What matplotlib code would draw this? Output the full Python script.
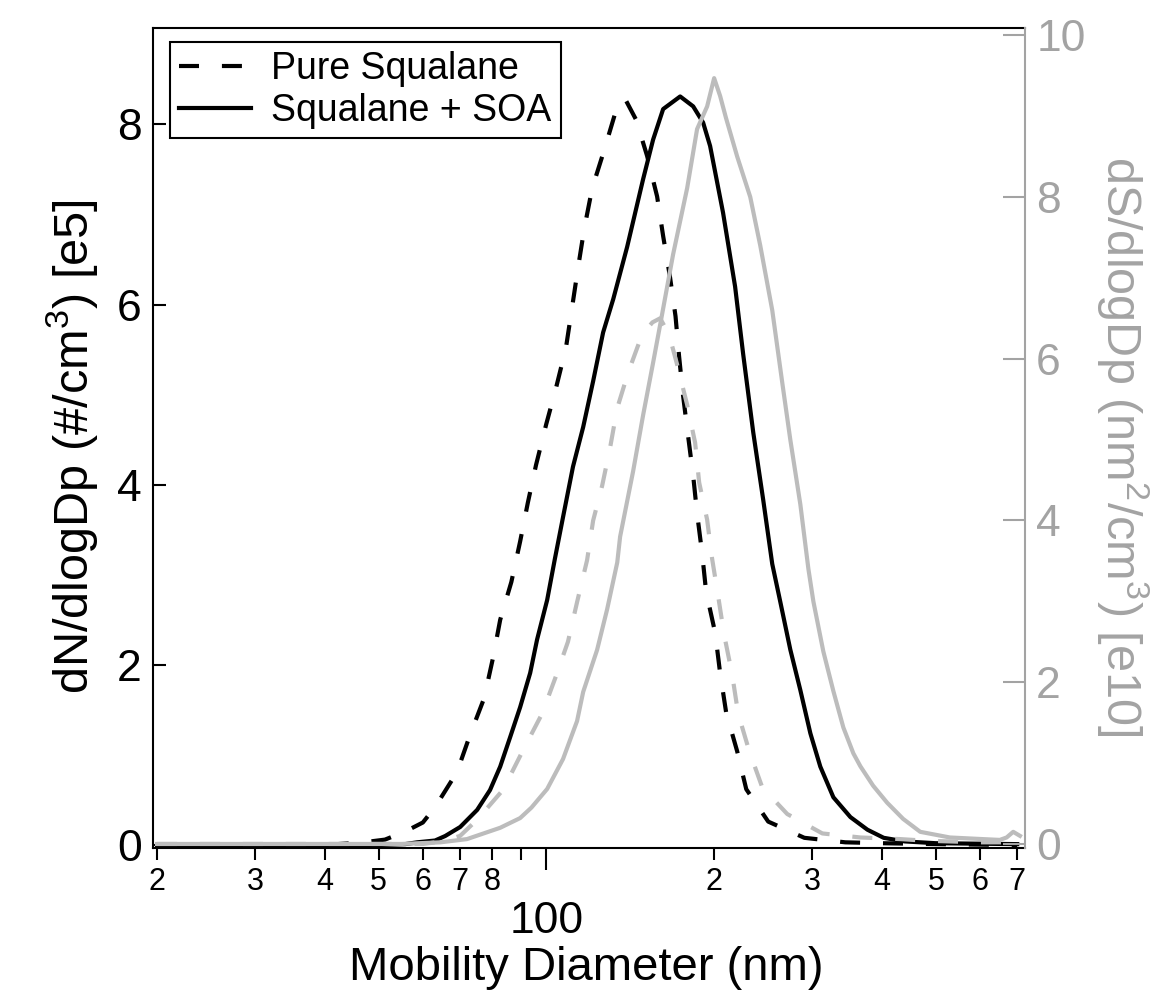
import matplotlib
matplotlib.use('Agg')
import matplotlib.pyplot as plt
import numpy as np
from matplotlib.ticker import FixedLocator, FixedFormatter

plt.rcParams['font.family'] = ['Liberation Sans', 'DejaVu Sans']
plt.rcParams['mathtext.fontset'] = 'custom'
plt.rcParams['mathtext.rm'] = 'Liberation Sans'
plt.rcParams['mathtext.default'] = 'regular'

# pure squalane, number distribution (left axis, x1e5)
pure_d = [20, 40, 46.9, 51.3, 55.8, 60, 63.1, 69.1, 72.9, 77.3, 80.2, 82.6, 86.5, 89.7,
          92.6, 95.8, 99.9, 104.1, 108.4, 111.2, 113.9, 116.9, 120.8, 126.9, 134.0, 138.5,
          144.9, 151.6, 158.0, 162.0, 166.7, 170.5, 173.0, 175.9, 179.6, 183.4, 186.4,
          190.3, 193.5, 200.8, 205.0, 210.2, 220.0, 228.4, 250.1, 290.4, 344, 400, 500, 700]
pure_n = [0, 0, 0.03, 0.06, 0.15, 0.25, 0.42, 0.81, 1.22, 1.63, 2.08, 2.5, 2.92, 3.37,
          3.8, 4.22, 4.67, 5.08, 5.52, 5.97, 6.4, 6.84, 7.29, 7.71, 8.2, 8.28,
          8.05, 7.65, 7.2, 6.76, 6.3, 5.87, 5.43, 4.99, 4.54, 4.1, 3.68,
          3.24, 2.81, 2.36, 1.91, 1.47, 1.04, 0.62, 0.26, 0.08, 0.03, 0.02, 0.01, 0]

# squalane + SOA, number distribution (left axis, x1e5)
soa_d = [20, 50, 55.8, 58.6, 63.1, 65.8, 70.0, 75.1, 79.2, 82.6, 86.1, 89.7, 93.5, 96.2,
         100.3, 103.5, 107.1, 111.6, 116.4, 121.3, 126.4, 131.8, 139.6, 149.1, 155.4,
         162.0, 173.8, 183.4, 191.1, 196.7, 207.5, 218.1, 225.5, 235.1, 245.0, 254.3,
         262.9, 274.0, 285.6, 297.7, 310.2, 327.4, 351.3, 376.9, 403.1, 440, 500, 700]
soa_n = [0, 0, 0.01, 0.03, 0.05, 0.1, 0.2, 0.39, 0.61, 0.87, 1.2, 1.53, 1.91, 2.28,
         2.72, 3.17, 3.64, 4.2, 4.64, 5.15, 5.69, 6.06, 6.64, 7.39, 7.83,
         8.17, 8.31, 8.2, 8.02, 7.76, 7.02, 6.2, 5.45, 4.58, 3.83, 3.12,
         2.7, 2.17, 1.72, 1.24, 0.87, 0.53, 0.31, 0.17, 0.08, 0.04, 0.02, 0.01]

# pure squalane, surface distribution (right axis, x1e10)
pure_sd = [20, 60, 65, 70, 75.1, 83.6, 90.8, 98.2, 103.7, 109.3, 113.5, 118.3, 121.3,
           125.9, 130.1, 134.0, 140.2, 148.5, 155, 160, 166, 171.6, 178.9, 184.9, 188.0,
           194.3, 198.3, 203.3, 208.4, 215.4, 220.9, 231.2, 244.0, 270.6, 312.8, 366.1,
           431.7, 480, 600, 700]
pure_s = [0, 0, 0.03, 0.1, 0.3, 0.67, 1.16, 1.61, 2.05, 2.5, 2.99, 3.51, 4.0,
          4.43, 4.9, 5.39, 5.83, 6.3, 6.45, 6.5, 6.3, 5.93, 5.43, 4.96, 4.47,
          4.01, 3.53, 3.07, 2.59, 2.1, 1.61, 1.15, 0.7, 0.37, 0.13, 0.08,
          0.06, 0.04, 0.02, 0.02]

# squalane + SOA, surface distribution (right axis, x1e10)
soa_sd = [20, 55, 64.5, 72.0, 82.6, 89.7, 94.0, 100.3, 107.1, 113.5, 116.4, 123.3, 128.5,
          134.0, 135.6, 143.1, 149.1, 155.4, 161.4, 168.8, 178.9, 186.4, 194.3, 200.0, 205,
          210, 220.0, 232.2, 242.0, 254.3, 265.1, 274.0, 285.6, 295.3, 301.4, 314.1, 327.4,
          341.2, 355.6, 366.1, 385.9, 408.9, 436.8, 468.8, 529.9, 607.1, 651.4, 670, 688.5, 708]
soa_s = [0, 0, 0.02, 0.06, 0.2, 0.32, 0.45, 0.68, 1.05, 1.52, 1.88, 2.4, 2.9,
         3.48, 3.8, 4.61, 5.3, 5.95, 6.56, 7.29, 8.11, 8.84, 9.12, 9.47, 9.25,
         8.98, 8.5, 8.0, 7.4, 6.6, 5.7, 5.0, 4.2, 3.4, 3.0, 2.38, 1.89,
         1.44, 1.12, 0.96, 0.72, 0.51, 0.31, 0.15, 0.08, 0.06, 0.05, 0.08, 0.15, 0.1]

minor_ticks = [20, 30, 40, 50, 60, 70, 80, 90, 200, 300, 400, 500, 600, 700]
minor_labels = ['2', '3', '4', '5', '6', '7', '8', '', '2', '3', '4', '5', '6', '7']

GRAY = '#bcbcbc'
AXGRAY = '#a3a3a3'
lw = 3

fig = plt.figure(figsize=(11.7, 9.96), dpi=100)
ax = fig.add_axes([0.1308, 0.1486, 0.7453, 0.8233])
ax2 = ax.twinx()

ax.plot(pure_d, pure_n, color='black', lw=lw, dashes=(4.8, 5.5), label='Pure Squalane')
ax.plot(soa_d, soa_n, color='black', lw=lw, label='Squalane + SOA')
ax2.plot(pure_sd, pure_s, color=GRAY, lw=lw, dashes=(4.8, 5.5))
ax2.plot(soa_sd, soa_s, color=GRAY, lw=lw)

ax.set_xscale('log')
ax.set_xlim(19.67, 723)
ax.set_ylim(-0.033, 9.07)
ax2.set_ylim(-0.05, 10.09)

ax.xaxis.set_major_locator(FixedLocator([100]))
ax.xaxis.set_major_formatter(FixedFormatter(['100']))
ax.xaxis.set_minor_locator(FixedLocator(minor_ticks))
ax.xaxis.set_minor_formatter(FixedFormatter(minor_labels))
ax.tick_params(axis='x', which='major', direction='out', length=16, width=1.5,
               labelsize=32, pad=22)
ax.tick_params(axis='x', which='minor', direction='out', length=8.5, width=1.5,
               labelsize=22, pad=5)

ax.set_yticks([0, 2, 4, 6, 8])
ax.tick_params(axis='y', direction='in', length=9, width=1.5, labelsize=32, pad=8)
ax2.set_yticks([0, 2, 4, 6, 8, 10])
ax2.tick_params(axis='y', direction='in', length=16, width=1.5, labelsize=32, pad=8,
                color=AXGRAY, labelcolor=AXGRAY)

for s in ['left', 'bottom', 'top']:
    ax.spines[s].set_linewidth(1.5)
for s in ['left', 'bottom', 'top']:
    ax2.spines[s].set_visible(False)
ax.spines['right'].set_visible(False)
ax2.spines['right'].set_color(AXGRAY)
ax2.spines['right'].set_linewidth(1.5)

ax.set_xlabel('Mobility Diameter (nm)', fontsize=34)
ax.xaxis.set_label_coords(0.497, -0.12)
ax.set_ylabel('dN/dlogDp (#/cm$^3$) [e5]', fontsize=35, va='center')
ax.yaxis.set_label_coords(-0.093, 0.49)
ax2.set_ylabel('dS/dlogDp (nm$^2$/cm$^3$) [e10]', fontsize=35, color=AXGRAY,
               rotation=270, va='center')
ax2.yaxis.set_label_coords(1.112, 0.49)

leg = ax.legend(loc='upper left', bbox_to_anchor=(0.0195, 0.983), borderaxespad=0,
                fontsize=27, handlelength=1.9, handletextpad=0.55, borderpad=0.25,
                labelspacing=0.15, fancybox=False, framealpha=1, edgecolor='black')
leg.get_frame().set_linewidth(1.5)

plt.savefig('out.png', dpi=100)
